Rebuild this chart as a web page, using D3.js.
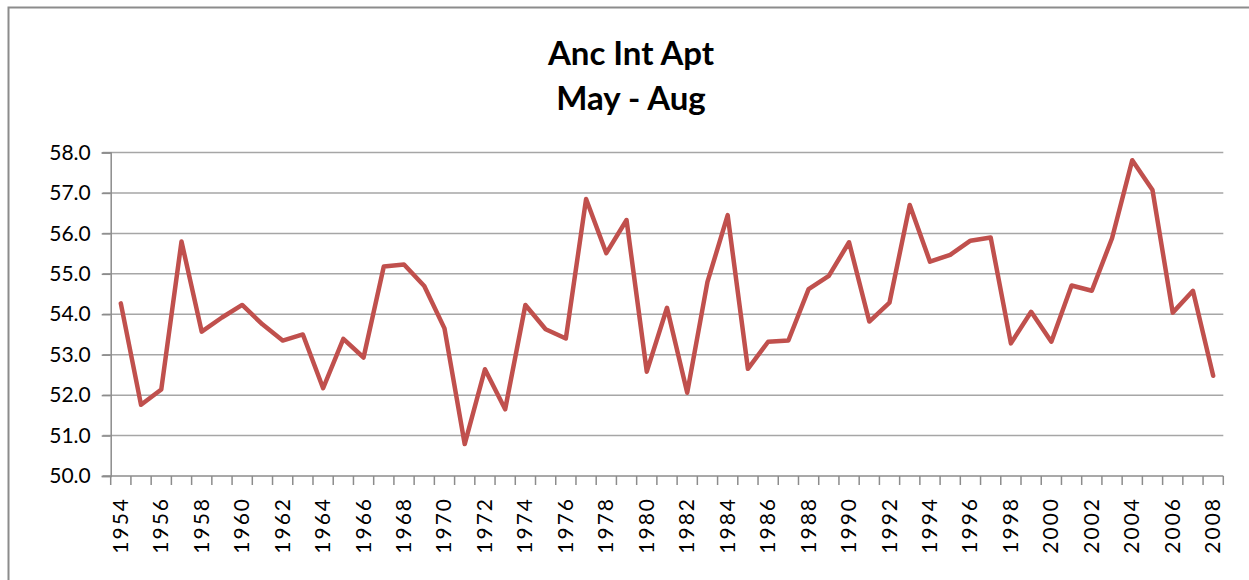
<!DOCTYPE html>
<html>
<head>
<meta charset="utf-8">
<script src="https://cdn.jsdelivr.net/npm/d3@7"></script>
<style>
  html, body { margin: 0; padding: 0; background: #fff; }
  svg { display: block; }
</style>
</head>
<body>
<svg id="chart" width="1249" height="580"></svg>
<script>
const titleLines = ["Anc Int Apt", "May - Aug"];
const years = [1954,1955,1956,1957,1958,1959,1960,1961,1962,1963,1964,1965,1966,1967,1968,1969,1970,1971,1972,1973,1974,1975,1976,1977,1978,1979,1980,1981,1982,1983,1984,1985,1986,1987,1988,1989,1990,1991,1992,1993,1994,1995,1996,1997,1998,1999,2000,2001,2002,2003,2004,2005,2006,2007,2008];
const values = [54.27,51.76,52.14,55.80,53.57,53.92,54.23,53.75,53.35,53.50,52.17,53.39,52.93,55.18,55.23,54.70,53.65,50.79,52.64,51.65,54.23,53.63,53.40,56.85,55.51,56.33,52.58,54.16,52.06,54.80,56.45,52.65,53.32,53.35,54.62,54.95,55.78,53.82,54.29,56.70,55.30,55.47,55.82,55.90,53.28,54.06,53.32,54.71,54.58,55.88,57.81,57.07,54.04,54.58,52.48];
const yTicks = [50,51,52,53,54,55,56,57,58];
const xLabelYears = years.filter((y, i) => i % 2 === 0);

const svg = d3.select("#chart");
const plotLeft = 110.7, plotRight = 1223.3, plotTop = 152.5, plotBottom = 476;

// chart border
svg.append("rect")
  .attr("x", 8.5).attr("y", 7.5)
  .attr("width", 1260).attr("height", 600)
  .attr("fill", "#fff").attr("stroke", "#8c8c8c").attr("stroke-width", 2);

// title
svg.append("text")
  .attr("x", 631).attr("y", 65)
  .attr("text-anchor", "middle")
  .style("font-family", "Lato, 'Open Sans', sans-serif")
  .style("font-weight", "bold").style("font-size", "33px")
  .text(titleLines[0]);
svg.append("text")
  .attr("x", 631).attr("y", 110)
  .attr("text-anchor", "middle")
  .style("font-family", "Lato, 'Open Sans', sans-serif")
  .style("font-weight", "bold").style("font-size", "33px")
  .text(titleLines[1]);

const x = d3.scaleBand().domain(years).range([plotLeft, plotRight]).paddingInner(0).paddingOuter(0);
const y = d3.scaleLinear().domain([50, 58]).range([plotBottom, plotTop]);

// gridlines
svg.append("g").selectAll("line").data(yTicks.filter(t => t !== 50)).join("line")
  .attr("x1", plotLeft - 8).attr("x2", plotRight)
  .attr("y1", d => y(d)).attr("y2", d => y(d))
  .attr("stroke", "#a6a6a6").attr("stroke-width", 1.5);

// y axis
const yAxis = svg.append("g").attr("transform", `translate(${plotLeft},0)`)
  .call(d3.axisLeft(y).tickValues(yTicks).tickFormat(d3.format(".1f")).tickSize(9).tickPadding(11));
yAxis.select(".domain").attr("stroke", "#8c8c8c").attr("stroke-width", 1.5);
yAxis.selectAll(".tick line").attr("stroke", "#8c8c8c").attr("stroke-width", 1.5);
yAxis.selectAll(".tick text")
  .style("font-family", "Lato, 'Open Sans', sans-serif").style("font-size", "21px").attr("fill", "#000");

// x axis line
svg.append("line").attr("x1", plotLeft - 8).attr("x2", plotRight)
  .attr("y1", plotBottom).attr("y2", plotBottom)
  .attr("stroke", "#8c8c8c").attr("stroke-width", 1.5);
// x ticks at category boundaries
const boundaries = years.map(d => x(d)).concat([x(years[years.length - 1]) + x.bandwidth()]);
svg.append("g").selectAll("line").data(boundaries).join("line")
  .attr("x1", d => d).attr("x2", d => d)
  .attr("y1", plotBottom).attr("y2", plotBottom + 9)
  .attr("stroke", "#8c8c8c").attr("stroke-width", 1.5);
// x labels
svg.append("g").selectAll("text").data(xLabelYears).join("text")
  .attr("transform", d => `translate(${x(d) + x.bandwidth() / 2 + 7},${497}) rotate(-90)`)
  .attr("text-anchor", "end")
  .style("font-family", "Lato, 'Open Sans', sans-serif").style("font-size", "21px")
  .style("letter-spacing", "2px")
  .attr("fill", "#000")
  .text(d => d);

// line
const line = d3.line().x((d, i) => x(years[i]) + x.bandwidth() / 2).y(d => y(d));
svg.append("path").datum(values)
  .attr("d", line)
  .attr("fill", "none").attr("stroke", "#c0504d").attr("stroke-width", 4.5)
  .attr("stroke-linejoin", "round").attr("stroke-linecap", "round");
</script>
</body>
</html>
